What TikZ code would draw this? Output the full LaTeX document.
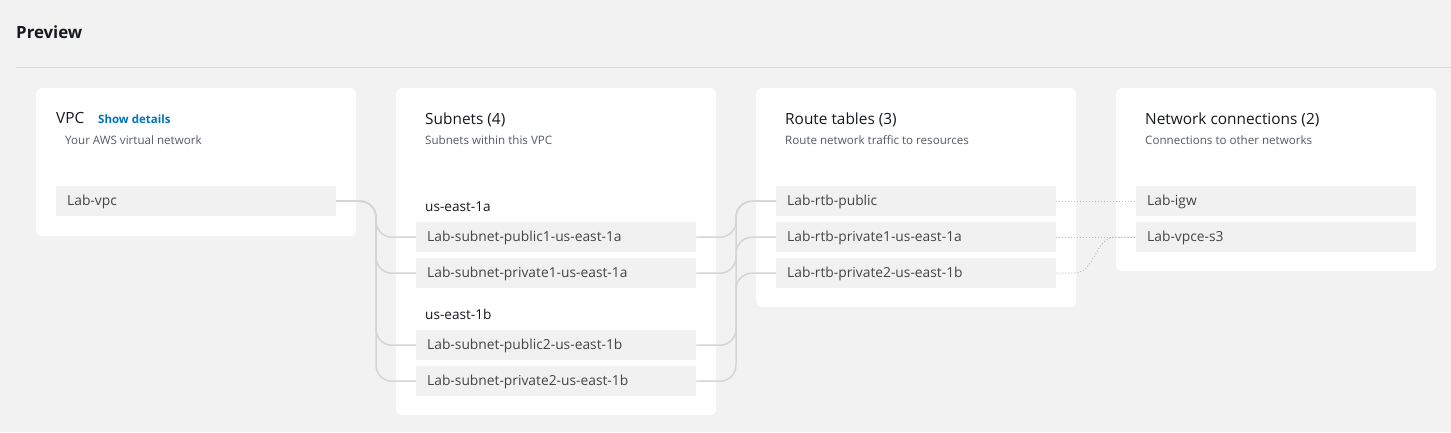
\documentclass[tikz,border=0pt]{standalone}
\usepackage{fontspec}
\setmainfont{Open Sans}
\usetikzlibrary{calc}
\definecolor{bg}{HTML}{F2F2F2}
\definecolor{itemfill}{HTML}{F1F1F1}
\definecolor{itemtext}{HTML}{444444}
\definecolor{titletext}{HTML}{16191F}
\definecolor{subtext}{HTML}{545B64}
\definecolor{sepline}{HTML}{D5DBDB}
\definecolor{connline}{HTML}{D5D5D5}
\definecolor{dotline}{HTML}{BDBDBD}
\definecolor{linkblue}{HTML}{0073BB}
\tikzset{
  card/.style={fill=white, rounded corners=6pt, draw=none, minimum width=320pt, anchor=north west, inner sep=0pt},
  item/.style={fill=itemfill, minimum width=280pt, minimum height=30pt, text width=258pt, inner xsep=11pt, inner ysep=0pt, align=left, anchor=north west, font=\fontsize{13.8}{15}\selectfont, text=itemtext, text height=11pt, text depth=2pt},
  ctitle/.style={anchor=base west, inner sep=0pt, font=\fontsize{15.4}{18}\selectfont, text=titletext},
  csub/.style={anchor=base west, inner sep=0pt, font=\fontsize{11.6}{14}\selectfont, text=subtext},
  zone/.style={anchor=base west, inner sep=0pt, font=\fontsize{13.6}{15}\selectfont, text=titletext},
  conn/.style={draw=connline, line width=1.5pt, rounded corners=16pt},
  dotconn/.style={draw=dotline, line width=1pt, dash pattern=on 1pt off 2pt},
}
\begin{document}
\begin{tikzpicture}[x=1pt,y=-1pt]
\fill[bg] (0,0) rectangle (1451,432);
\useasboundingbox (0,0) rectangle (1451,432);
\node[anchor=base west, inner sep=0pt, font=\bfseries\fontsize{16.8}{19}\selectfont, text=titletext] (preview) at (16,38) {Preview};
\draw[sepline, line width=1pt] (16,67) -- (1451,67);

% cards
\node[card, minimum height=148pt] (c1) at (36,88) {};
\node[card, minimum height=327pt] (c2) at (396,88) {};
\node[card, minimum height=219pt] (c3) at (756,88) {};
\node[card, minimum height=183pt] (c4) at (1116,88) {};

% card 1
\node[ctitle] (t1) at (56,123) {VPC};
\node[anchor=base west, inner sep=0pt, font=\bfseries\fontsize{11.5}{14}\selectfont, text=linkblue] (show) at (98,123) {Show details};
\node[csub] (s1t) at (65,144) {Your AWS virtual network};
\node[item] (vpc) at (56,186) {Lab-vpc};

% card 2
\node[ctitle] (t2) at (425,124) {Subnets (4)};
\node[csub] (s2t) at (425,144) {Subnets within this VPC};
\node[zone] (za) at (425,211) {us-east-1a};
\node[item] (sn1) at (416,222) {Lab-subnet-public1-us-east-1a};
\node[item] (sn2) at (416,258) {Lab-subnet-private1-us-east-1a};
\node[zone] (zb) at (425,319) {us-east-1b};
\node[item] (sn3) at (416,330) {Lab-subnet-public2-us-east-1b};
\node[item] (sn4) at (416,366) {Lab-subnet-private2-us-east-1b};

% card 3
\node[ctitle] (t3) at (785,124) {Route tables (3)};
\node[csub] (s3t) at (785,144) {Route network traffic to resources};
\node[item] (rt1) at (776,186) {Lab-rtb-public};
\node[item] (rt2) at (776,222) {Lab-rtb-private1-us-east-1a};
\node[item] (rt3) at (776,258) {Lab-rtb-private2-us-east-1b};

% card 4
\node[ctitle] (t4) at (1145,124) {Network connections (2)};
\node[csub] (s4t) at (1145,144) {Connections to other networks};
\node[item] (igw) at (1136,186) {Lab-igw};
\node[item] (vpce) at (1136,222) {Lab-vpce-s3};

% vpc -> subnets
\foreach \s in {sn1,sn2,sn3,sn4}
  \draw[conn] (vpc.east) -| ($(\s.west)+(-40,0)$) -- (\s.west);

% subnets -> route tables
\draw[conn] (sn1.east) -| ($(rt1.west)+(-40,0)$) -- (rt1.west);
\draw[conn] (sn2.east) -| ($(rt2.west)+(-40,0)$) -- (rt2.west);
\draw[conn] (sn3.east) -| ($(rt1.west)+(-40,0)$) -- (rt1.west);
\draw[conn] (sn4.east) -| ($(rt3.west)+(-40,0)$) -- (rt3.west);

% route tables -> connections
\draw[dotconn] (rt1.east) -- (igw.west);
\draw[dotconn] (rt2.east) -- (vpce.west);
\draw[dotconn] (rt3.east) -- (1074,273) .. controls (1096,273) and (1094,237) .. (1116,237) -- (vpce.west);
\end{tikzpicture}
\end{document}
